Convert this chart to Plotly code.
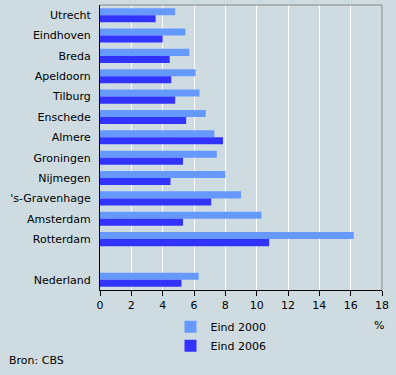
import plotly.graph_objects as go

cities = ["Utrecht", "Eindhoven", "Breda", "Apeldoorn", "Tilburg", "Enschede",
          "Almere", "Groningen", "Nijmegen", "'s-Gravenhage", "Amsterdam",
          "Rotterdam", " ", "Nederland"]
eind_2000 = [4.8, 5.45, 5.7, 6.1, 6.35, 6.75, 7.3, 7.45, 8.0, 9.0, 10.3, 16.2, None, 6.3]
eind_2006 = [3.55, 4.0, 4.45, 4.55, 4.8, 5.5, 7.85, 5.3, 4.5, 7.1, 5.3, 10.8, None, 5.2]
x_ticks = list(range(0, 19, 2))

BG = "#cedce2"
FONT = "DejaVu Sans, Verdana, sans-serif"

fig = go.Figure()
fig.add_trace(go.Bar(y=cities, x=eind_2000, orientation="h", name="Eind 2000",
                     marker=dict(color="#6699ff", line=dict(width=0))))
fig.add_trace(go.Bar(y=cities, x=eind_2006, orientation="h", name="Eind 2006",
                     marker=dict(color="#3333ff", line=dict(width=0))))

fig.update_layout(
    width=396, height=375,
    margin=dict(l=100, r=14, t=5, b=85),
    paper_bgcolor=BG, plot_bgcolor=BG,
    font=dict(family=FONT, size=11, color="#000000"),
    barmode="group", bargap=0.31, bargroupgap=0,
    showlegend=True,
    legend=dict(x=0.25, y=-0.078, xanchor="left", yanchor="top",
                bgcolor="rgba(0,0,0,0)", font=dict(size=11),
                itemwidth=30, traceorder="normal"),
    xaxis=dict(range=[0, 18], tickvals=x_ticks, showgrid=True, gridcolor="#ffffff",
               gridwidth=1, zeroline=False, showline=True, linecolor="#000000",
               linewidth=1, ticks="outside", ticklen=5, tickcolor="#000000",
               fixedrange=True),
    yaxis=dict(categoryorder="array", categoryarray=cities, range=[13.5, -0.5],
               showgrid=False, zeroline=False, showline=True, linecolor="#000000",
               linewidth=1, ticks="", ticklabelstandoff=6),
    shapes=[
        dict(type="line", xref="paper", yref="paper", x0=0, x1=1, y0=1, y1=1,
             line=dict(color="#888888", width=1)),
        dict(type="line", xref="paper", yref="paper", x0=1, x1=1, y0=0, y1=1,
             line=dict(color="#888888", width=1)),
    ],
    annotations=[
        dict(text="%", xref="paper", yref="paper", x=0.989, y=-0.126,
             showarrow=False, xanchor="center", yanchor="middle"),
        dict(text="Bron: CBS", xref="paper", yref="paper", x=-0.33, y=-0.249,
             showarrow=False, xanchor="left", yanchor="middle"),
    ],
)

fig.write_html("out.html",
               config={"displayModeBar": False},
               post_script="document.body.style.margin='0';document.body.style.background='" + BG + "';")
